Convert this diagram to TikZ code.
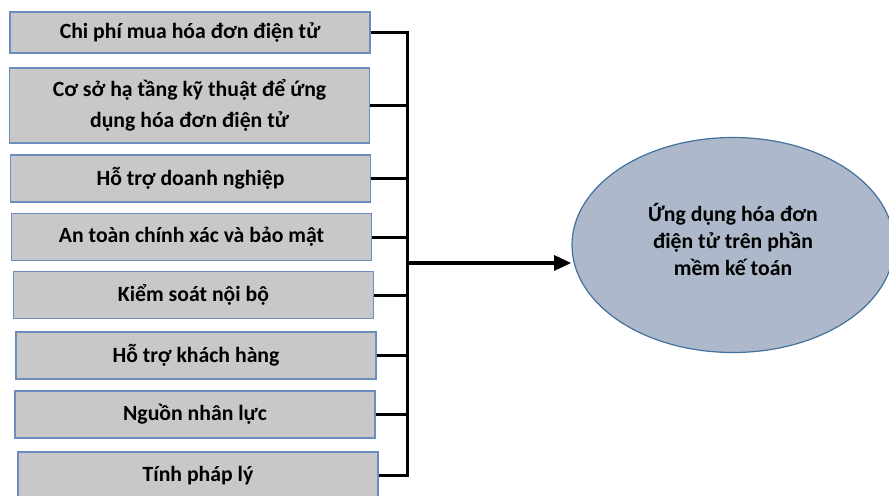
\documentclass[tikz,border=0pt]{standalone}
\usepackage{fontspec}
\setmainfont{Carlito}
\usetikzlibrary{shapes.geometric,arrows.meta}

\tikzset{every picture/.style={line width=0.75pt}}

\begin{document}
\begin{tikzpicture}[x=0.75pt,y=0.75pt,yscale=-1,xscale=1,
	factor/.style={draw={rgb, 255:red, 108; green, 142; blue, 191 },fill={rgb, 255:red, 200; green, 200; blue, 200 },line width=0.9pt,minimum width=270pt,minimum height=35.25pt,align=center,font=\fontsize{16.3}{23.25}\selectfont\bfseries,inner sep=0pt},
	link/.style={line width=2.25pt},
	goal/.style={ellipse,draw={rgb, 255:red, 65; green, 113; blue, 156 },fill={rgb, 255:red, 173; green, 185; blue, 202 },line width=0.9pt,minimum width=241.5pt,minimum height=161.25pt,inner sep=0pt}]
	\useasboundingbox (0,0) rectangle (889,496);

	%Shape: Rectangle [factors]
	\node [factor,minimum height=30.75pt] (f1) at (190,32.5) {Chi phí mua hóa đơn điện tử};
	\node [factor,minimum height=56.25pt] (f2) at (189.5,105.5) {Cơ sở hạ tầng kỹ thuật để ứng\\dụng hóa đơn điện tử};
	\node [factor] (f3) at (190.5,178.5) {Hỗ trợ doanh nghiệp};
	\node [factor] (f4) at (191.5,237) {An toàn chính xác và bảo mật};
	\node [factor] (f5) at (193.5,295) {Kiểm soát nội bộ};
	\node [factor] (f6) at (196,355.5) {Hỗ trợ khách hàng};
	\node [factor] (f7) at (195,414.5) {Nguồn nhân lực};
	\node [factor] (f8) at (198,475.5) {Tính pháp lý};

	%Shape: Ellipse [goal]
	\node [goal] (app) at (733,245) {};
	% Text Node
	\node [align=center,font=\fontsize{16.3}{20.25}\selectfont\bfseries] (appText) at (733,239) {Ứng dụng hóa đơn\\điện tử trên phần\\mềm kế toán};

	%Straight Lines [bracket]
	\coordinate (bus) at (407,0);
	\coordinate (hub) at (407,263);
	\draw [link] (f1.east) -| (bus |- f8.east) -- (f8.east) ;
	\foreach \i in {2,...,7}
		\draw [link] (f\i.east) -- (f\i.east -| bus) ;

	%Straight Lines [arrow]
	\draw [line width=3pt,-{Triangle[length=13pt,width=11pt]}] ([xshift=1.5pt]hub) -- (hub -| app.west) ;

\end{tikzpicture}
\end{document}
